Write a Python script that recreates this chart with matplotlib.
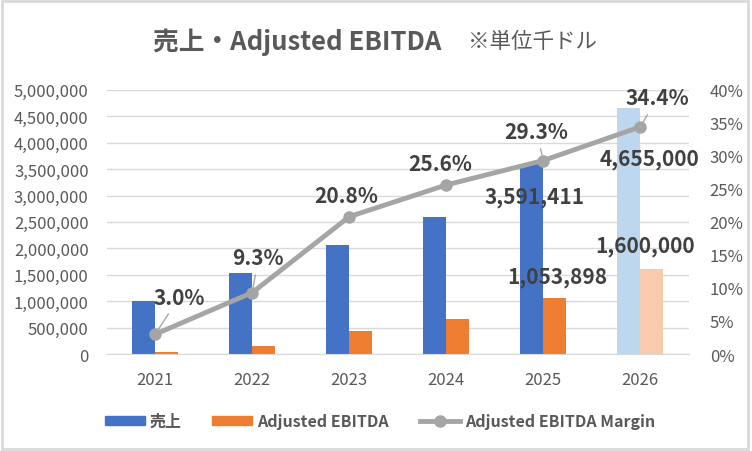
import matplotlib
matplotlib.use("Agg")
import matplotlib.pyplot as plt
from matplotlib.patches import Rectangle
from matplotlib.lines import Line2D
from matplotlib.ticker import FuncFormatter, MultipleLocator

plt.rcParams["font.family"] = ["Noto Sans CJK JP", "DejaVu Sans"]

years = ["2021", "2022", "2023", "2024", "2025", "2026"]
sales = [1000000, 1540000, 2070000, 2600000, 3591411, 4655000]
ebitda = [30000, 143000, 430000, 666000, 1053898, 1600000]
margin = [3.0, 9.3, 20.8, 25.6, 29.3, 34.4]

blue = "#4472C4"
orange = "#ED7D31"
blue_light = "#BDD7EE"
orange_light = "#F8CBAD"
gray_line = "#A5A5A5"
text_gray = "#595959"
label_dark = "#404040"

fig = plt.figure(figsize=(7.52, 4.52), dpi=100)
fig.patches.append(Rectangle((0.002, 0.004), 0.993, 0.992, transform=fig.transFigure,
                             fill=False, edgecolor="#D9D9D9", linewidth=2))

ax = fig.add_axes([0.142, 0.2146, 0.774, 0.5844])
x = list(range(len(years)))
w = 0.237
sales_colors = [blue] * 5 + [blue_light]
ebitda_colors = [orange] * 5 + [orange_light]
ax.bar([i - w / 2 for i in x], sales, w, color=sales_colors, zorder=2)
ax.bar([i + w / 2 for i in x], ebitda, w, color=ebitda_colors, zorder=2)

ax.set_xlim(-0.5, len(years) - 0.5)
ax.set_ylim(0, 5000000)
ax.yaxis.set_major_locator(MultipleLocator(500000))
ax.yaxis.set_major_formatter(FuncFormatter(lambda v, p: f"{int(v):,}"))
ax.set_xticks(x)
ax.set_xticklabels(years)
ax.grid(axis="y", color="#D9D9D9", linewidth=1, zorder=0)
ax.tick_params(length=0, labelsize=12, colors=text_gray, pad=13)
ax.tick_params(axis="x", pad=12)
for s in ["top", "right", "left"]:
    ax.spines[s].set_visible(False)
ax.spines["bottom"].set_color("#D9D9D9")

ax2 = ax.twinx()
ax2.plot(x, margin, color=gray_line, linewidth=3.5, marker="o", markersize=8, zorder=5)
ax2.set_ylim(0, 40)
ax2.yaxis.set_major_locator(MultipleLocator(5))
ax2.yaxis.set_major_formatter(FuncFormatter(lambda v, p: f"{int(v)}%"))
ax2.tick_params(length=0, labelsize=12, colors=text_gray, pad=15)
for s in ax2.spines.values():
    s.set_visible(False)

# margin labels: offsets in pixels from the point to the label centre
m_offsets = [(24, 37), (6, 35), (-3, 21), (-6, 21), (-7, 29), (17, 29)]
m_leader = [True, True, False, False, True, True]
for i, (m, off, ld) in enumerate(zip(margin, m_offsets, m_leader)):
    ax2.annotate(f"{m:.1f}%", (i, m), xytext=off, textcoords="offset pixels",
                 ha="center", va="center", fontsize=15, fontweight="bold", color=label_dark,
                 arrowprops=dict(arrowstyle="-", color=gray_line, lw=1,
                                 shrinkA=3, shrinkB=4) if ld else None, zorder=6)

# bar labels for 2025 and 2026
bar_labels = [
    (4 - w / 2, sales[4], 3, -32),
    (4 + w / 2, ebitda[4], 2, 22),
    (5 - w / 2, sales[5], 21, -50),
    (5 + w / 2, ebitda[5], -7, 24),
]
for bx, val, dx, dy in bar_labels:
    ax.annotate(f"{val:,}", (bx, val), xytext=(dx, dy), textcoords="offset pixels",
                ha="center", va="center", fontsize=15, fontweight="bold", color=label_dark,
                zorder=7)

fig.text(0.395, 0.907, "売上・Adjusted EBITDA", ha="center", va="center",
         fontsize=18.5, fontweight="bold", color=text_gray)
fig.text(0.708, 0.907, "※単位千ドル", ha="center", va="center",
         fontsize=15.5, color=text_gray)

handles = [
    Rectangle((0, 0), 1, 1, color=blue),
    Rectangle((0, 0), 1, 1, color=orange),
    Line2D([], [], color=gray_line, linewidth=3.5, marker="o", markersize=8),
]
leg = fig.legend(handles, ["売上", "Adjusted EBITDA", "Adjusted EBITDA Margin"],
                 loc="center", bbox_to_anchor=(0.505, 0.066), ncol=3, frameon=False,
                 fontsize=11.5, handlelength=2.5, handleheight=0.45, columnspacing=1.95,
                 handletextpad=0.3)
for t in leg.get_texts():
    t.set_color(text_gray)
    t.set_fontweight("bold")

fig.savefig("out.png", dpi=100)
